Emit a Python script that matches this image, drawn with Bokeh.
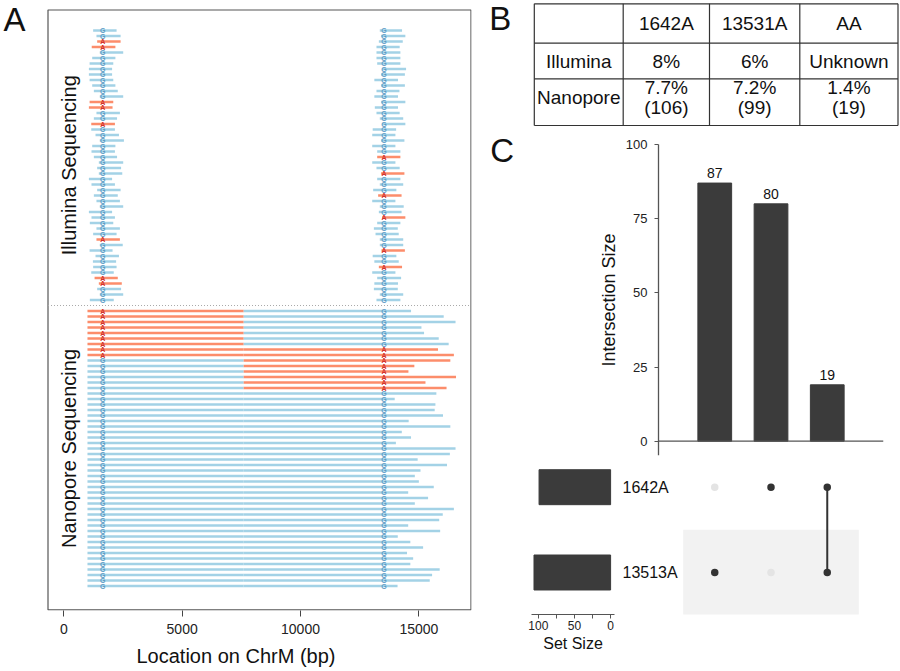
import math
from bokeh.plotting import figure
from bokeh.layouts import row, column
from bokeh.models import Range1d, Label, FixedTicker, ColumnDataSource
from bokeh.core.properties import value
from bokeh.embed import file_html
from bokeh.resources import INLINE

FONT = value("Liberation Sans")
FONT_NAME = "Liberation Sans"

# ---------------- Panel A data (positions in bp) ----------------
SITE1 = 1642
SITE2 = 13531
ill_left_start = [1240, 1380, 1410, 1180, 1520, 1200, 1090, 1060, 1060, 1090,
                  1200, 1270, 1520, 1090, 1060, 1380, 1270, 1160, 1160, 1340,
                  1520, 1200, 1170, 1270, 1480, 1410, 1480, 1060, 1170, 1410,
                  1270, 1380, 1520, 1060, 1170, 1100, 1380, 1240, 1380, 1520,
                  1090, 1340, 1230, 1240, 1160, 1300, 1480, 1410, 1520, 1100]
ill_left_end = [2230, 2400, 2400, 2180, 2510, 2180, 2090, 2040, 2040, 2090,
                2180, 2280, 2510, 2090, 2060, 2370, 2250, 2160, 2160, 2330,
                2540, 2180, 2160, 2250, 2510, 2420, 2470, 2040, 2160, 2400,
                2280, 2370, 2510, 2040, 2160, 2090, 2370, 2230, 2370, 2490,
                2060, 2330, 2210, 2230, 2110, 2280, 2450, 2420, 2510, 2110]
ill_left_alt_rows = [2, 3, 13, 14, 17, 38, 45, 46]
ill_right_start = [13350, 13400, 13310, 13210, 13210, 13210, 13240, 13450, 13400, 13120,
                   13400, 13210, 13120, 13400, 13140, 13210, 13350, 13450, 13050, 13030,
                   13400, 13030, 13240, 13240, 13030, 13210, 13400, 13240, 13350, 13070,
                   13280, 13030, 13350, 13310, 13450, 13240, 13100, 13170, 13350, 13350,
                   13420, 13050, 13120, 13310, 13030, 13240, 13120, 13100, 13350, 13210]
ill_right_end = [14290, 14430, 14320, 14190, 14220, 14220, 14220, 14460, 14410, 14120,
                 14410, 14180, 14120, 14430, 14120, 14190, 14340, 14430, 14040, 14010,
                 14390, 14010, 14220, 14220, 14010, 14190, 14390, 14220, 14340, 14050,
                 14270, 14010, 14360, 14270, 14430, 14220, 14110, 14150, 14340, 14340,
                 14410, 14050, 14150, 14290, 14010, 14250, 14120, 14110, 14340, 14220]
ill_right_alt_rows = [23, 26, 30, 34, 40, 43]

nano_start = 1000
nano_phase_break = 7600
nano_end = [14670, 16050, 16550, 15110, 15220, 15840, 16260, 15810, 16480, 16330,
            14810, 14560, 16570, 15280, 16170, 15740, 13980, 15700, 15670, 16020,
            14570, 16330, 14280, 14670, 14030, 16550, 16310, 14950, 16190, 15070,
            14830, 15000, 15630, 14550, 15390, 14830, 16480, 16010, 15860, 14550,
            15900, 14110, 14640, 15180, 14500, 14760, 14640, 15880, 15560, 15460,
            14100]
nano_alt1_rows = [0, 1, 2, 3, 4, 5, 6, 7, 8]
nano_alt2_rows = [7, 8, 9, 10, 11, 12, 13, 14]

x_ticks_A = [0, 5000, 10000, 15000]

# ---------------- Panel B data ----------------
tbl_header = ["", "1642A", "13531A", "AA"]
tbl_rows = ["Illumina", "Nanopore"]
tbl_illumina = ["8%", "6%", "Unknown"]
tbl_nano_pct = ["7.7%", "7.2%", "1.4%"]
tbl_nano_n = [106, 99, 19]

# ---------------- Panel C data ----------------
inter_sizes = [87, 80, 19]
set_names = ["1642A", "13513A"]
set_sizes = [99, 106]
membership = [[0, 1], [1, 0], [1, 1]]   # per intersection: (1642A, 13513A)
y_ticks_C = [0, 25, 50, 75, 100]

# ---------------- styles ----------------
BLUE = "#a3d2e6"
ORANGE = "#fc8d6b"
G_COL = "#5f9dc6"
A_COL = "#d2322a"
DARK = "#3b3b3b"
AXIS = "#555555"
TXT = "#111111"

# ===================== Panel A =====================
A_PX0, A_BP_PER_PX = 63.3, 1 / 0.02367
A_ROW0, A_ROWH = 30.0, 5.5
def a_x(px):
    return (px - A_PX0) * A_BP_PER_PX
def a_y(py):
    return (py - A_ROW0) / A_ROWH

NANO_OFFSET = 51
pA = figure(width=490, height=671, x_range=Range1d(a_x(0), a_x(471)),
            y_range=Range1d(a_y(610), a_y(0)),
            output_backend="svg", toolbar_location=None, y_axis_location=None,
            min_border_left=0, min_border_right=19, min_border_top=0, min_border_bottom=61)
pA.grid.visible = False
pA.outline_line_color = None

box_l, box_r, box_t, box_b = a_x(47.5), a_x(470.5), a_y(9.5), a_y(609.3)
pA.quad(left=[box_l], right=[box_r], top=[box_t], bottom=[box_b], fill_color=None,
        line_color=AXIS, line_width=1.2)

sx0, sx1, sy, sc = [], [], [], []
mx, my, mt, mc = [], [], [], []
for k in range(len(ill_left_start)):
    alt = k in ill_left_alt_rows
    sx0.append(ill_left_start[k]); sx1.append(ill_left_end[k]); sy.append(k)
    sc.append(ORANGE if alt else BLUE)
    mx.append(SITE1); my.append(k); mt.append("A" if alt else "G"); mc.append(A_COL if alt else G_COL)
for k in range(len(ill_right_start)):
    alt = k in ill_right_alt_rows
    sx0.append(ill_right_start[k]); sx1.append(ill_right_end[k]); sy.append(k)
    sc.append(ORANGE if alt else BLUE)
    mx.append(SITE2); my.append(k); mt.append("A" if alt else "G"); mc.append(A_COL if alt else G_COL)
for j, end in enumerate(nano_end):
    y = NANO_OFFSET + j
    a1 = j in nano_alt1_rows
    a2 = j in nano_alt2_rows
    sx0.append(nano_start); sx1.append(nano_phase_break); sy.append(y); sc.append(ORANGE if a1 else BLUE)
    sx0.append(nano_phase_break); sx1.append(end); sy.append(y); sc.append(ORANGE if a2 else BLUE)
    mx.append(SITE1); my.append(y); mt.append("A" if a1 else "G"); mc.append(A_COL if a1 else G_COL)
    mx.append(SITE2); my.append(y); mt.append("A" if a2 else "G"); mc.append(A_COL if a2 else G_COL)

segsrc = ColumnDataSource(dict(x0=sx0, x1=sx1, y=sy, c=sc))
pA.segment(x0="x0", y0="y", x1="x1", y1="y", line_color="c", line_width=2.3, source=segsrc)
msrc = ColumnDataSource(dict(x=mx, y=my, t=mt, c=mc))
pA.text(x="x", y="y", text="t", text_color="c", text_font=FONT, text_font_size="7px",
        text_font_style="bold", text_align="center", text_baseline="middle", source=msrc)

sep_y = (len(ill_left_start) - 1 + NANO_OFFSET) / 2
pA.segment(x0=[box_l], x1=[box_r], y0=[sep_y], y1=[sep_y], line_color="#aaaaaa",
           line_dash="1 2", line_width=1)

pA.xaxis.ticker = FixedTicker(ticks=x_ticks_A)
pA.xaxis.bounds = (box_l, box_r)
pA.xaxis.minor_tick_line_color = None
pA.xaxis.axis_line_color = None
pA.xaxis.major_tick_line_color = "#444444"
pA.xaxis.major_tick_out = 6
pA.xaxis.major_tick_in = 0
pA.xaxis.major_label_standoff = 7
pA.xaxis.major_label_text_font = FONT_NAME
pA.xaxis.major_label_text_font_size = "14px"
pA.xaxis.major_label_text_color = "#222222"
pA.xaxis.axis_label = "Location on ChrM (bp)"
pA.xaxis.axis_label_text_font = FONT_NAME
pA.xaxis.axis_label_text_font_size = "20px"
pA.xaxis.axis_label_text_font_style = "normal"
pA.xaxis.axis_label_text_color = TXT
pA.xaxis.axis_label_standoff = 8

ill_mid = (len(ill_left_start) - 1) / 2
nano_mid = NANO_OFFSET + (len(nano_end) - 1) / 2
pA.add_layout(Label(x=a_x(68), y=ill_mid, text="Illumina Sequencing", angle=math.pi / 2,
                    text_align="center", text_baseline="middle", text_font=FONT_NAME,
                    text_font_size="20px", text_color=TXT))
pA.add_layout(Label(x=a_x(68), y=nano_mid, text="Nanopore Sequencing", angle=math.pi / 2,
                    text_align="center", text_baseline="middle", text_font=FONT_NAME,
                    text_font_size="20px", text_color=TXT))
pA.add_layout(Label(x=a_x(14), y=a_y(19), text="A", text_align="center", text_baseline="middle",
                    text_font=FONT_NAME, text_font_size="33px", text_color=TXT))

# ===================== Panel B (table) =====================
col_edges = [533.8, 622.7, 709, 799.3, 897.5]
row_edges = [3.3, 42.7, 78.3, 125]
pB = figure(width=410, height=132, x_range=Range1d(490, 900), y_range=Range1d(132, 0),
            output_backend="svg", toolbar_location=None, x_axis_location=None, y_axis_location=None,
            min_border_left=0, min_border_right=0, min_border_top=0, min_border_bottom=0)
pB.grid.visible = False
pB.outline_line_color = None
pB.segment(x0=[col_edges[0]] * len(row_edges), x1=[col_edges[-1]] * len(row_edges),
           y0=row_edges, y1=row_edges, line_color="#333333", line_width=1.2)
pB.segment(x0=col_edges, x1=col_edges, y0=[row_edges[0]] * len(col_edges),
           y1=[row_edges[-1]] * len(col_edges), line_color="#333333", line_width=1.2)
cx = [(col_edges[i] + col_edges[i + 1]) / 2 for i in range(4)]
row_c = [(row_edges[i] + row_edges[i + 1]) / 2 for i in range(3)]
tx, ty, tt = [], [], []
for i, h in enumerate(tbl_header):
    if h:
        tx.append(cx[i]); ty.append(row_c[0]); tt.append(h)
tx.append(cx[0]); ty.append(row_c[1]); tt.append(tbl_rows[0])
for i, v in enumerate(tbl_illumina):
    tx.append(cx[i + 1]); ty.append(row_c[1]); tt.append(v)
tx.append(cx[0]); ty.append(row_c[2] - 4.5); tt.append(tbl_rows[1])
for i, v in enumerate(tbl_nano_pct):
    tx.append(cx[i + 1]); ty.append(row_c[2] - 14.3); tt.append(v)
for i, v in enumerate(tbl_nano_n):
    tx.append(cx[i + 1]); ty.append(row_c[2] + 5); tt.append("(%d)" % v)
pB.text(x=tx, y=ty, text=tt, text_font=FONT, text_font_size="19px", text_color=TXT,
        text_align="center", text_baseline="middle")
pB.add_layout(Label(x=499.7, y=18, text="B", text_align="center", text_baseline="middle",
                    text_font=FONT_NAME, text_font_size="33px", text_color=TXT))

# ===================== Panel C (intersection bars) =====================
C_X0, C_UNIT = 658.0, 56.25
C_Y0, C_YUNIT = 440.7, 2.967
def c_x(px):
    return (px - C_X0) / C_UNIT
def c_y(py):
    return (C_Y0 - py) / C_YUNIT

xs = [1, 2, 3]
pC = figure(width=410, height=326, x_range=Range1d(c_x(490), c_x(883)),
            y_range=Range1d(c_y(455), c_y(132)),
            output_backend="svg", toolbar_location=None, x_axis_location=None,
            min_border_left=0, min_border_right=17, min_border_top=0, min_border_bottom=3)
pC.grid.visible = False
pC.outline_line_color = None
pC.vbar(x=xs, top=inter_sizes, width=0.6, color=DARK)
pC.text(x=xs, y=inter_sizes, text=[str(v) for v in inter_sizes], text_font=FONT,
        text_font_size="14px", text_color=TXT, text_align="center",
        text_baseline="alphabetic", y_offset=-10)
pC.segment(x0=[0], x1=[c_x(883)], y0=[0], y1=[0], line_color=AXIS, line_width=1.3)
pC.yaxis.fixed_location = 0
pC.yaxis.bounds = (c_y(455), 100)
pC.yaxis.ticker = FixedTicker(ticks=y_ticks_C)
pC.yaxis.minor_tick_line_color = None
pC.yaxis.axis_line_color = AXIS
pC.yaxis.axis_line_width = 1.3
pC.yaxis.major_tick_line_color = AXIS
pC.yaxis.major_tick_out = 4
pC.yaxis.major_tick_in = 0
pC.yaxis.major_label_standoff = 7
pC.yaxis.major_label_text_font = FONT_NAME
pC.yaxis.major_label_text_font_size = "13px"
pC.yaxis.major_label_text_color = "#222222"
pC.yaxis.axis_label = "Intersection Size"
pC.yaxis.axis_label_text_font = FONT_NAME
pC.yaxis.axis_label_text_font_size = "18px"
pC.yaxis.axis_label_text_font_style = "normal"
pC.yaxis.axis_label_text_color = TXT
pC.yaxis.axis_label_standoff = 4
pC.add_layout(Label(x=c_x(501.7), y=c_y(150), text="C", text_align="center",
                    text_baseline="middle", text_font=FONT_NAME, text_font_size="33px",
                    text_color=TXT))

# ===================== Set size bars =====================
M_ROW0, M_ROWH = 486.7, 85.3
def m_y(py):
    return (py - M_ROW0) / M_ROWH

rows_idx = [0, 1]
S_X0, S_PX_PER = 612.0, 0.74
def s_x(px):
    return (S_X0 - px) / S_PX_PER

pS = figure(width=190, height=213, x_range=Range1d(s_x(531), s_x(616)),
            y_range=Range1d(m_y(614), m_y(458)),
            output_backend="svg", toolbar_location=None, y_axis_location="right",
            min_border_left=41, min_border_right=64, min_border_top=0, min_border_bottom=57)
pS.grid.visible = False
pS.outline_line_color = None
pS.hbar(y=rows_idx, left=0, right=set_sizes, height=0.41, color=DARK)
pS.xaxis.ticker = FixedTicker(ticks=[0, 50, 100], minor_ticks=[25, 75])
pS.xaxis.axis_line_color = AXIS
pS.xaxis.major_tick_line_color = AXIS
pS.xaxis.minor_tick_line_color = AXIS
pS.xaxis.major_tick_out = 4
pS.xaxis.major_tick_in = 0
pS.xaxis.minor_tick_out = 4
pS.xaxis.minor_tick_in = 0
pS.xaxis.major_label_standoff = 2
pS.xaxis.major_label_text_font = FONT_NAME
pS.xaxis.major_label_text_font_size = "12px"
pS.xaxis.major_label_text_color = "#222222"
pS.xaxis.axis_label = "Set Size"
pS.xaxis.axis_label_text_font = FONT_NAME
pS.xaxis.axis_label_text_font_size = "16px"
pS.xaxis.axis_label_text_font_style = "normal"
pS.xaxis.axis_label_text_color = TXT
pS.xaxis.axis_label_standoff = 2
pS.yaxis.ticker = FixedTicker(ticks=rows_idx)
pS.yaxis.major_label_overrides = {0: set_names[0], 1: set_names[1]}
pS.yaxis.axis_line_color = None
pS.yaxis.major_tick_line_color = None
pS.yaxis.minor_tick_line_color = None
pS.yaxis.major_label_standoff = 2
pS.yaxis.major_label_text_font = FONT_NAME
pS.yaxis.major_label_text_font_size = "16px"
pS.yaxis.major_label_text_color = TXT

# ===================== Matrix =====================
pM = figure(width=220, height=213, x_range=Range1d(c_x(680), c_x(900)),
            y_range=Range1d(m_y(614), m_y(458)),
            output_backend="svg", toolbar_location=None, x_axis_location=None, y_axis_location=None,
            min_border_left=0, min_border_right=0, min_border_top=0, min_border_bottom=57)
pM.grid.visible = False
pM.outline_line_color = None
pM.quad(left=[c_x(682.7)], right=[c_x(858.3)], bottom=[0.5], top=[1.5], color="#f2f2f2",
        line_color=None)
dx, dy, dc = [], [], []
for c, mem in zip(xs, membership):
    for r, m in enumerate(mem):
        dx.append(c); dy.append(r); dc.append("#333333" if m else "#e4e4e4")
for c, mem in zip(xs, membership):
    on = [r for r, m in enumerate(mem) if m]
    if len(on) > 1:
        pM.segment(x0=[c], x1=[c], y0=[min(on)], y1=[max(on)], line_color="#333333", line_width=2)
pM.scatter(x=dx, y=dy, size=7.5, color=dc, line_color=None)

layout = row(pA, column(row(pB), row(pC), row(pS, pM)))
open("out.html", "w").write(file_html(layout, INLINE))
